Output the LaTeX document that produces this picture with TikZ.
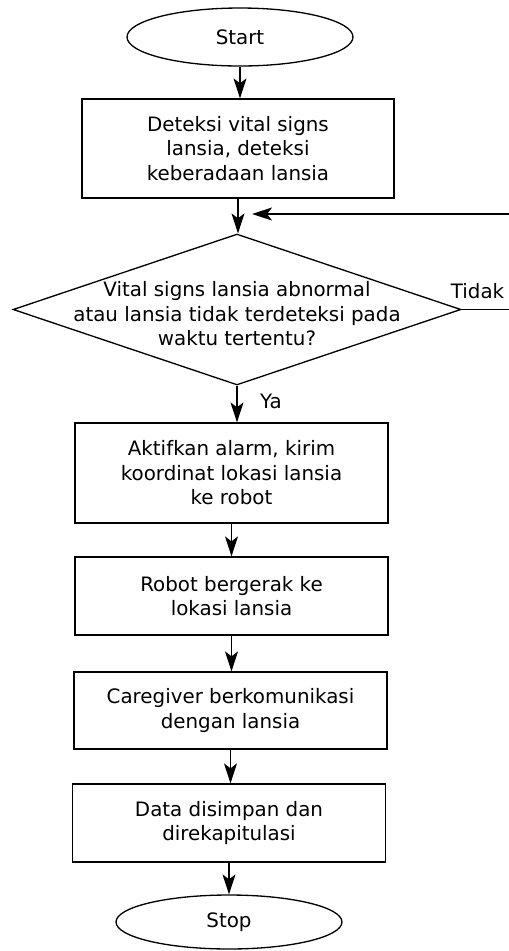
\documentclass[tikz,border=0pt]{standalone}
\usepackage{fontspec}
\setmainfont{DejaVu Sans}
\usetikzlibrary{arrows.meta,shapes.geometric}

\begin{document}
\begin{tikzpicture}[x=0.02cm,y=-0.02cm,>={Stealth[length=4mm,width=2.6mm,inset=1mm]},
  font=\fontsize{11.3}{13.9}\selectfont,line width=0.75pt,
  box/.style={draw,align=center,inner sep=0pt,minimum width=6.26cm},
  term/.style={draw,ellipse,inner sep=0pt,minimum width=4.52cm},
  decision/.style={draw,diamond,inner sep=0pt,minimum width=8.96cm,minimum height=3.02cm},
  arr/.style={->}]
  \useasboundingbox (0,0) rectangle (509,951);

  % main flow
  \node[term,minimum height=1.16cm] (start) at (240,37) {Start};
  \node[box,minimum width=6.24cm,minimum height=1.98cm] (detect) at (238,148.5) {Deteksi vital signs\\lansia, deteksi\\keberadaan lansia};
  \node[decision] (cond) at (237,309.5) {};
  \node[align=center] (condtext) at (237,314) {Vital signs lansia abnormal\\atau lansia tidak terdeteksi pada\\waktu tertentu?};
  \node[box,minimum height=2cm] (act) at (231.5,473) {Aktifkan alarm, kirim\\koordinat lokasi lansia\\ke robot};
  \node[box,minimum height=1.56cm] (robot) at (231.5,596) {Robot bergerak ke\\lokasi lansia};
  \node[box,minimum height=1.54cm] (care) at (230.5,710.5) {Caregiver berkomunikasi\\dengan lansia};
  \node[box,minimum height=1.56cm] (data) at (229,823) {Data disimpan dan\\direkapitulasi};
  \node[term,minimum height=1.08cm] (stop) at (229,922) {Stop};

  \foreach \a/\b in {start/detect,detect/cond,cond/act,act/robot,robot/care,care/data,data/stop}
    \draw[arr] (\a.south) -- (\a.south |- \b.north);

  % branch labels
  \node (ya) at (271,401) {Ya};
  \node (tidak) at (477.5,291) {Tidak};

  % loop back when not detected
  \coordinate (back) at (514,214);
  \coordinate (join) at (252,214);
  \draw[arr] (cond.east) -| (back) -- (join);
\end{tikzpicture}
\end{document}
